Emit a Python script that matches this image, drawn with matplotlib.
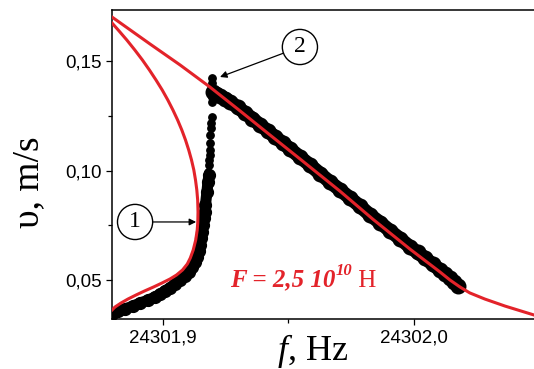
import numpy as np
import matplotlib.pyplot as plt
from matplotlib.ticker import FixedLocator, FuncFormatter

# red model curve, outer (upper) branch
f_up = [24301.8798, 24301.8949, 24301.9069, 24301.9188, 24301.9308, 24301.9427,
        24301.9546, 24301.9705, 24301.9837, 24301.9984, 24302.0103, 24302.0143,
        24302.0183, 24302.0222, 24302.0282, 24302.0362, 24302.0478]
v_up = [0.1701, 0.1578, 0.1482, 0.1381, 0.1272, 0.1162,
        0.1053, 0.0906, 0.0777, 0.0641, 0.0537, 0.0500,
        0.0468, 0.0441, 0.0413, 0.0381, 0.0340]

# red model curve, inner branch (down to the turning point and back)
f_in = [24301.87983, 24301.88229, 24301.88571, 24301.88890, 24301.89192, 24301.89471,
        24301.89733, 24301.89980, 24301.90203, 24301.90406, 24301.90593, 24301.90760,
        24301.90907, 24301.91035, 24301.91146, 24301.91238, 24301.91305, 24301.91357,
        24301.91391, 24301.91405, 24301.91397, 24301.91373, 24301.91313, 24301.91214,
        24301.91098, 24301.90979, 24301.90788, 24301.90549, 24301.90290, 24301.89972,
        24301.89634, 24301.89276, 24301.88938, 24301.88619, 24301.88341, 24301.88102,
        24301.87983]
v_in = [0.16735, 0.16416, 0.15959, 0.15502, 0.15046, 0.14589,
        0.14132, 0.13676, 0.13219, 0.12763, 0.12306, 0.11849,
        0.11393, 0.10936, 0.10479, 0.10023, 0.09566, 0.09110,
        0.08653, 0.08105, 0.07648, 0.07283, 0.06826, 0.06370,
        0.06005, 0.05731, 0.05457, 0.05228, 0.05046, 0.04863,
        0.04680, 0.04498, 0.04315, 0.04132, 0.03950, 0.03767,
        0.03630]

# measured points: lower band, jump, upper band
f_low = [24301.8798, 24301.8824, 24301.8850, 24301.8880, 24301.8910, 24301.8940,
         24301.8969, 24301.8990, 24301.9009, 24301.9030, 24301.9049, 24301.9070,
         24301.9089, 24301.9104, 24301.9117, 24301.9128, 24301.9136, 24301.9143,
         24301.9148, 24301.9153, 24301.9156, 24301.9161, 24301.9164, 24301.9167,
         24301.9170, 24301.9176, 24301.9180, 24301.9184]
v_low = [0.0345, 0.0357, 0.0368, 0.0380, 0.0395, 0.0407,
         0.0422, 0.0435, 0.0450, 0.0465, 0.0482, 0.0499,
         0.0518, 0.0538, 0.0559, 0.0583, 0.0605, 0.0632,
         0.0660, 0.0690, 0.0719, 0.0752, 0.0783, 0.0812,
         0.0842, 0.0902, 0.0947, 0.0979]

f_jump = [24301.9180, 24301.9184, 24301.9184, 24301.9188, 24301.9188, 24301.9188,
          24301.9188, 24301.9192, 24301.9192, 24301.9196, 24301.9196, 24301.9196,
          24301.9196, 24301.9196, 24301.9196]
v_jump = [0.0993, 0.1025, 0.1048, 0.1071, 0.1094, 0.1126,
          0.1162, 0.1194, 0.1217, 0.1244, 0.1313, 0.1336,
          0.1368, 0.1400, 0.1422]

f_hi = [24301.9200, 24301.9214, 24301.9228, 24301.9248, 24301.9268, 24301.9298,
        24301.9327, 24301.9357, 24301.9387, 24301.9417, 24301.9447, 24301.9477,
        24301.9507, 24301.9546, 24301.9586, 24301.9626, 24301.9666, 24301.9706,
        24301.9746, 24301.9786, 24301.9825, 24301.9865, 24301.9905, 24301.9945,
        24301.9984, 24302.0014, 24302.0044, 24302.0074, 24302.0103, 24302.0123,
        24302.0143, 24302.0160, 24302.0175]
v_hi = [0.1358, 0.1351, 0.1340, 0.1328, 0.1313, 0.1289,
        0.1263, 0.1237, 0.1208, 0.1182, 0.1153, 0.1127,
        0.1098, 0.1062, 0.1025, 0.0986, 0.0947, 0.0911,
        0.0874, 0.0836, 0.0797, 0.0762, 0.0724, 0.0688,
        0.0651, 0.0626, 0.0600, 0.0572, 0.0546, 0.0528,
        0.0509, 0.0490, 0.0473]

red = '#e3232a'

fig = plt.figure(figsize=(5.34, 3.69), dpi=100)
ax = fig.add_axes([112/534, 50/369, 422/534, 309/369])

ax.plot(f_low, v_low, color='black', lw=8, marker='o', ms=8.5, solid_capstyle='round', zorder=2)
ax.plot(f_hi, v_hi, color='black', lw=10, marker='o', ms=10.5, solid_capstyle='round', zorder=2)
ax.plot(f_jump, v_jump, 'o', color='black', ms=5.3, zorder=2)
ax.plot(f_up, v_up, color=red, lw=2.2, zorder=3)
ax.plot(f_in, v_in, color=red, lw=2.2, zorder=3)

ax.set_xlim(24301.87982, 24302.04775)
ax.set_ylim(0.03219, 0.17329)

ax.xaxis.set_major_locator(FixedLocator([24301.9, 24302.0]))
ax.xaxis.set_minor_locator(FixedLocator([24301.95]))
ax.yaxis.set_major_locator(FixedLocator([0.05, 0.10, 0.15]))
ax.yaxis.set_minor_locator(FixedLocator([0.075, 0.125]))
ax.xaxis.set_major_formatter(FuncFormatter(lambda v, p: f"{v:.1f}".replace('.', ',')))
ax.yaxis.set_major_formatter(FuncFormatter(lambda v, p: f"{v:.2f}".replace('.', ',')))
ax.tick_params(which='major', direction='out', length=4.5, width=0.9, pad=3,
               labelsize=13.5, top=False, right=False)
ax.tick_params(which='minor', direction='out', length=3, width=0.9, top=False, right=False)
for lab in ax.get_xticklabels() + ax.get_yticklabels():
    lab.set_fontfamily('Liberation Sans')
for s in ['left', 'bottom', 'top']:
    ax.spines[s].set_linewidth(1.1)
ax.spines['right'].set_visible(False)

fig.text(29/534, 1 - 182/369, 'υ, m/s', rotation=90, ha='center', va='center',
         family='Liberation Serif', fontsize=27)
tf = fig.text(278/534, 1 - 360/369, 'f', ha='left', va='baseline', fontsize=26,
              family='Liberation Serif', style='italic')
ax.annotate(', Hz', xy=(1, 0), xycoords=tf, va='bottom', ha='left',
            family='Liberation Serif', fontsize=26, annotation_clip=False)

t1 = ax.text(24301.9268, 0.0470, 'F = 2,5 10', color=red, family='Liberation Serif',
             style='italic', weight='bold', fontsize=18)
t2 = ax.annotate('10', xy=(1, 0.55), xycoords=t1, color=red, family='Liberation Serif',
                 style='italic', weight='bold', fontsize=12, va='bottom')
ax.annotate(' H', xy=(1, 0), xycoords=(t2, t1), color=red, family='Liberation Serif',
            fontsize=18, va='bottom')

circ = dict(boxstyle='circle,pad=0.3', fc='white', ec='black', lw=1.0)
ax.annotate('1', xy=(24301.9133, 0.0765), xytext=(24301.8890, 0.0765),
            ha='center', va='center', family='Liberation Serif', fontsize=17, bbox=circ,
            arrowprops=dict(arrowstyle='-|>', color='black', lw=0.9, mutation_scale=10,
                            shrinkA=0, shrinkB=0))
ax.annotate('2', xy=(24301.9228, 0.1427), xytext=(24301.9546, 0.1564),
            ha='center', va='center', family='Liberation Serif', fontsize=17, bbox=circ,
            arrowprops=dict(arrowstyle='-|>', color='black', lw=0.9, mutation_scale=10,
                            shrinkA=0, shrinkB=0))

fig.savefig('out.png', dpi=100)
